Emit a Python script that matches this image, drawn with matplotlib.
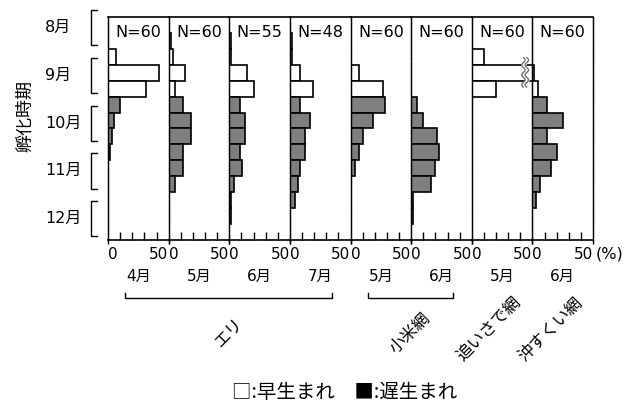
import matplotlib
matplotlib.use('Agg')
import matplotlib.pyplot as plt
import numpy as np
from matplotlib.lines import Line2D
from matplotlib import transforms

JP = ['Noto Sans CJK JP', 'DejaVu Sans']
NUM = ['DejaVu Sans', 'Noto Sans CJK JP']
plt.rcParams['font.family'] = NUM

# ---------------- data ----------------
# 15 ten-day periods: 8月上旬 ... 12月下旬
months = ['8月', '9月', '10月', '11月', '12月']
n_early_bins = 6          # 8月・9月 hatchers = early-born (white)
panel_months = ['4月', '5月', '6月', '7月', '5月', '6月', '5月', '6月']
panel_n = [60, 60, 55, 48, 60, 60, 60, 60]
groups = ['エリ', '小米網', '追いさで網', '沖すくい網']
group_span = [(0, 3), (4, 5), (6, 6), (7, 7)]
bracketed = [True, True, False, False]

eri_4 = [0, 0, 0, 6.7, 41.7, 31.7, 10.0, 5.0, 3.3, 1.7, 0, 0, 0, 0, 0]
eri_5 = [0, 0, 1.7, 3.3, 13.3, 5.0, 11.7, 18.3, 18.3, 11.7, 11.7, 5.0, 0, 0, 0]
eri_6 = [0, 0, 1.8, 1.8, 14.5, 20.0, 9.1, 12.7, 12.7, 9.1, 10.9, 3.6, 1.8, 1.8, 0]
eri_7 = [0, 0, 2.1, 2.1, 8.3, 18.8, 8.3, 16.7, 12.5, 12.5, 8.3, 6.3, 4.2, 0, 0]
komai_5 = [0, 0, 0, 0, 6.7, 26.7, 28.3, 18.3, 10.0, 6.7, 3.3, 0, 0, 0, 0]
komai_6 = [0, 0, 0, 0, 0, 0, 5.0, 10.0, 21.7, 23.3, 20.0, 16.7, 1.7, 1.7, 0]
oisade_5 = [0, 0, 0, 10.0, 70.0, 20.0, 0, 0, 0, 0, 0, 0, 0, 0, 0]
okisukui_6 = [0, 0, 0, 0, 1.7, 5.0, 11.7, 25.0, 11.7, 20.0, 15.0, 6.7, 3.3, 0, 0]
panels = [eri_4, eri_5, eri_6, eri_7, komai_5, komai_6, oisade_5, okisukui_6]

xmax = 50
gray = '#7f7f7f'

# ---------------- figure ----------------
W, H = 641, 403
fig = plt.figure(figsize=(W / 100, H / 100), dpi=100)


def fx(x):
    return x / W


def fy(y):
    return 1 - y / H


left0, right0 = 108, 593
top, bottom = 17, 240
pw = (right0 - left0) / len(panels)

axes = []
for i, vals in enumerate(panels):
    ax = fig.add_axes([fx(left0 + i * pw), fy(bottom), pw / W, (bottom - top) / H])
    axes.append(ax)
    nb = len(vals)
    yy = np.arange(nb) + 0.5
    colors = ['white' if b < n_early_bins else gray for b in range(nb)]
    ax.barh(yy, vals, height=1.0, color=colors, edgecolor='black', linewidth=1.2)
    ax.set_xlim(0, xmax)
    ax.set_ylim(15, 1)
    ax.set_yticks([])
    ax.set_xticks([0, xmax])
    ax.set_xticklabels(['0', '50'], fontsize=11)
    labs = ax.get_xticklabels()
    labs[0].set_ha('left')
    labs[1].set_ha('right')
    ax.set_xticks([10, 20, 30, 40], minor=True)
    ax.tick_params(axis='x', which='minor', direction='in', length=6, width=1)
    ax.tick_params(axis='x', which='major', direction='out', length=3, width=1, pad=2)
    for s in ['left', 'right']:
        ax.spines[s].set_linewidth(1.0)
        ax.spines[s].set_linestyle((0, (1.2, 0.6)))
    ax.spines['top'].set_linewidth(1.2)
    ax.spines['bottom'].set_linewidth(1.2)
    if i < len(panels) - 1:
        ax.spines['right'].set_visible(False)
    ax.text(xmax / 2, 1.95, f'N={panel_n[i]}', ha='center', va='center', fontsize=11.5)

# break mark on the truncated bar (追いさで網 5月)
axb = axes[6]
ys = np.linspace(3.55, 5.4, 80)
wave = 1.4 * np.sin(2 * np.pi * (ys - 3.55) / 0.62)
x1 = 42.6 + wave
x2 = 45.4 + wave
axb.fill_betweenx(ys, x1, x2, color='white', zorder=5, clip_on=False)
axb.plot(x1, ys, color='#666666', lw=0.9, zorder=6, clip_on=False)
axb.plot(x2, ys, color='#666666', lw=0.9, zorder=6, clip_on=False)

# left month brackets and labels
trans = transforms.blended_transform_factory(fig.transFigure, axes[0].transData)
for k, m in enumerate(months):
    y0, y1 = 3 * k + 0.56, 3 * k + 2.77
    fig.add_artist(Line2D([fx(97), fx(91), fx(91), fx(97)], [y0, y0, y1, y1],
                          transform=trans, color='black', lw=1.0))
    fig.text(fx(45), 3 * k + 1.65, m, transform=trans, ha='left', va='center',
             fontsize=11.5, family=NUM)

fig.text(fx(25), fy(116), '孵化時期', rotation=90, ha='center', va='center',
         fontsize=13, family=JP)
fig.text(fx(596), fy(254), '(%)', ha='left', va='center', fontsize=11.5)

# bottom labels
centers = [left0 + (i + 0.5) * pw for i in range(len(panels))]
for i, m in enumerate(panel_months):
    fig.text(fx(centers[i]), fy(276), m, ha='center', va='center', fontsize=11, family=NUM)

for g, (a, b), br in zip(groups, group_span, bracketed):
    if br:
        xa, xb = centers[a] - 13, centers[b] + 12
        fig.add_artist(Line2D([fx(xa), fx(xa), fx(xb), fx(xb)],
                              [fy(293), fy(298), fy(298), fy(293)],
                              color='black', lw=1.0))
        cx = (xa + xb) / 2
        cy = 333
    else:
        cx = centers[a] - 12
        cy = 330
    fig.text(fx(cx), fy(cy), g, rotation=45, ha='center', va='center',
             fontsize=12, family=JP)

fig.text(fx(345), fy(392), '□:早生まれ　■:遅生まれ', ha='center', va='center',
         fontsize=14, family=JP)

fig.savefig('out.png', dpi=100)
